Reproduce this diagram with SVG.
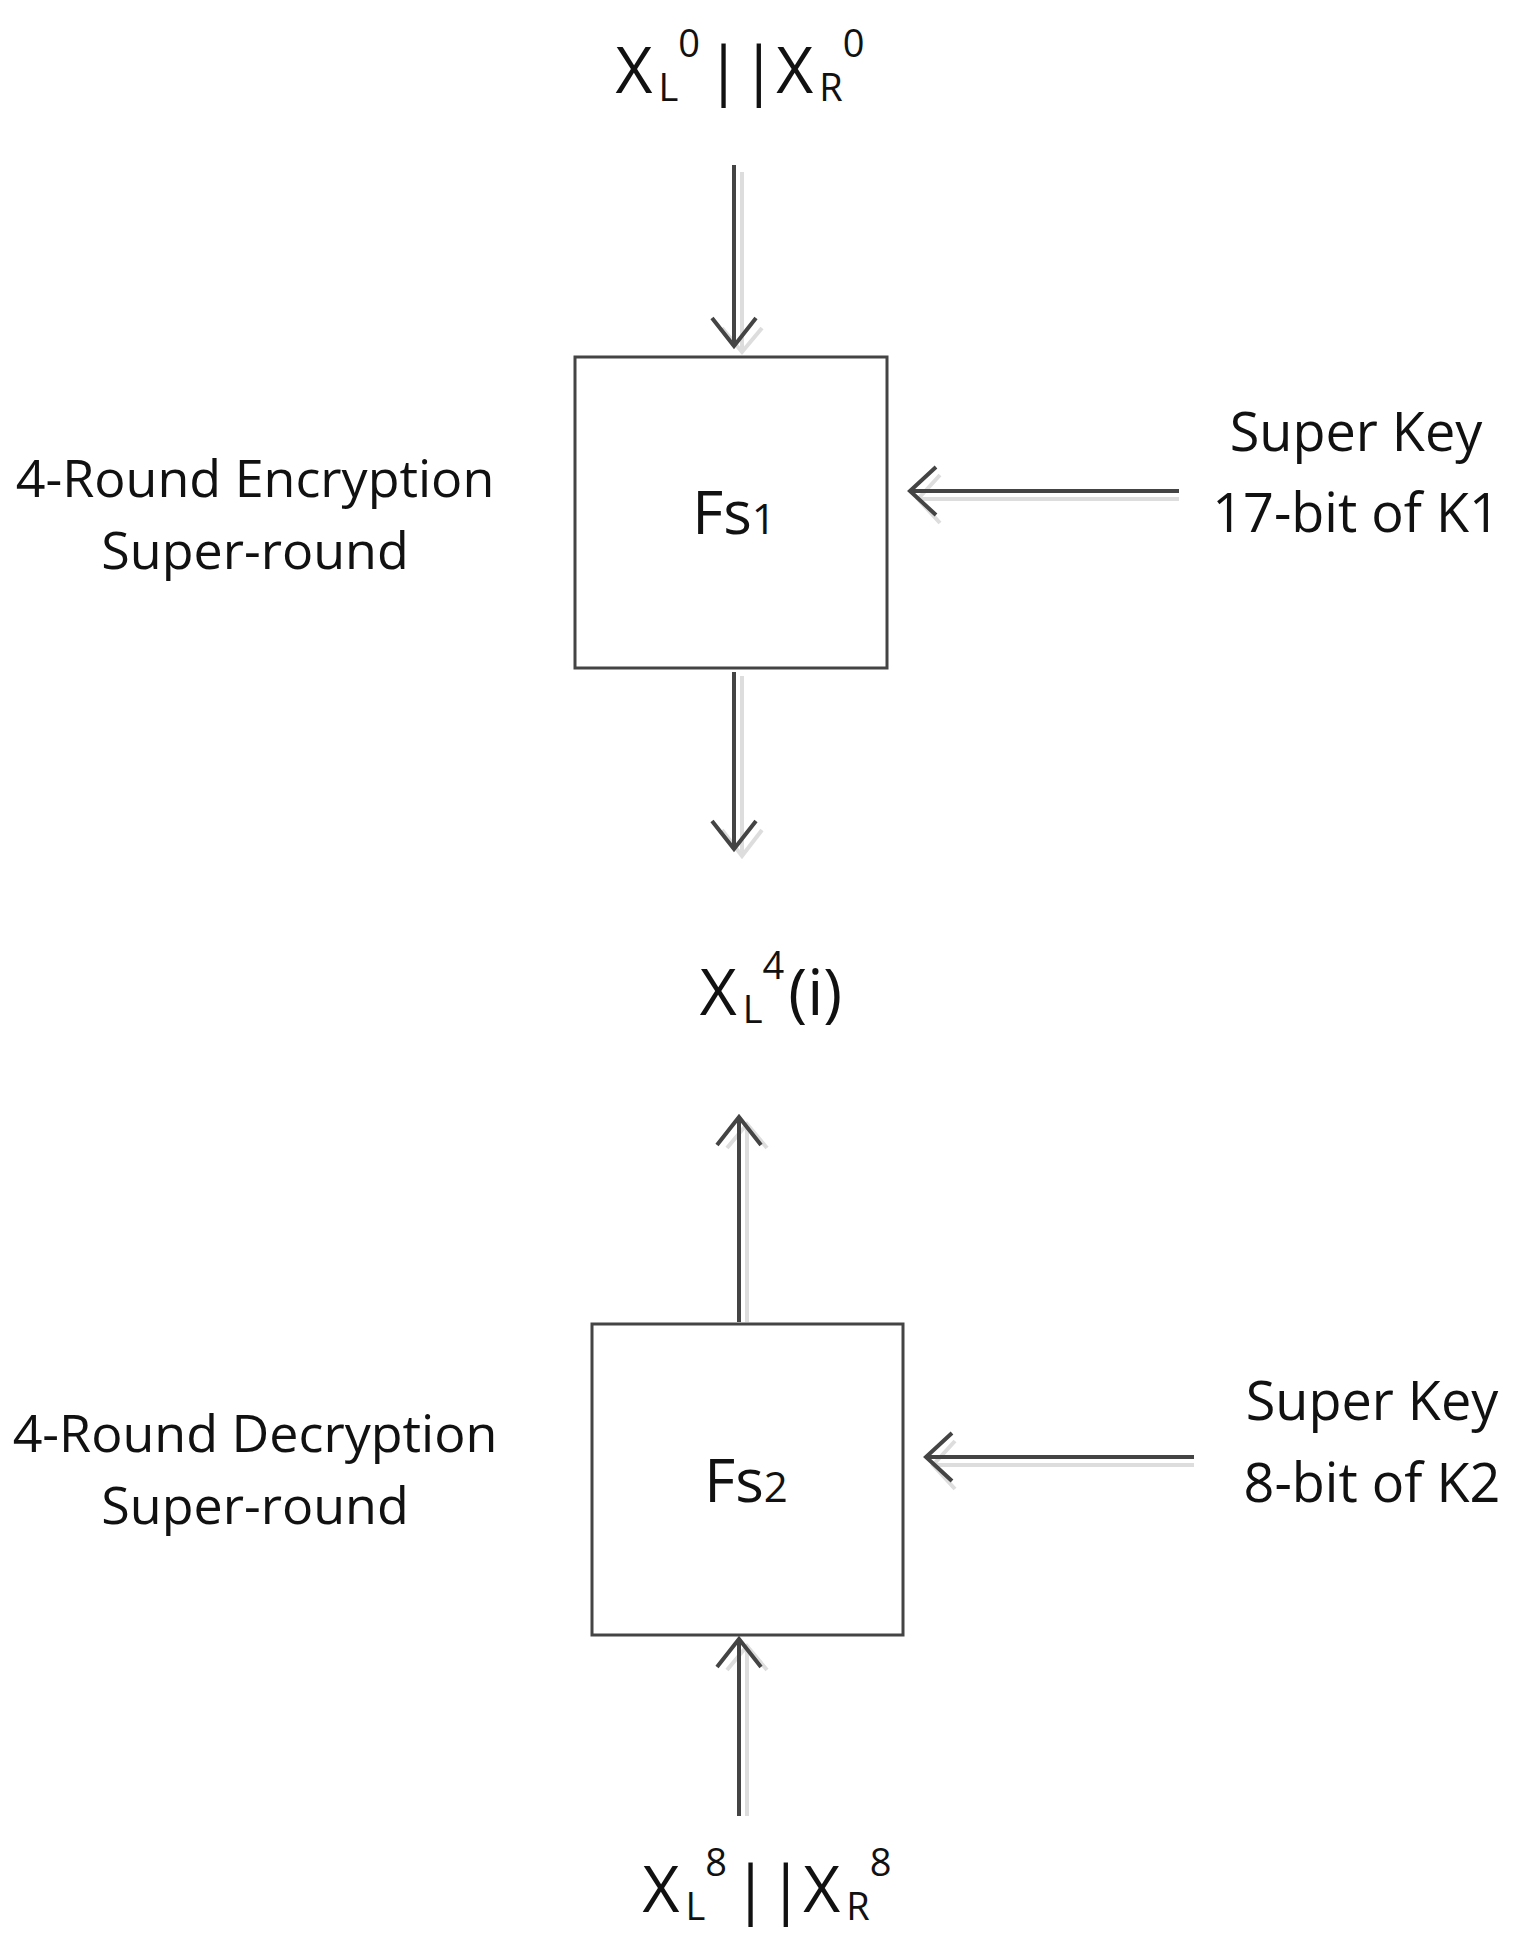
<svg xmlns="http://www.w3.org/2000/svg" width="1520" height="1936" viewBox="0 0 1520 1936">
<style>
text{font-family:"Open Sans","Liberation Sans",sans-serif;fill:#111;text-anchor:middle}
.t{font-size:52px}
.k{font-size:54px}
.f{font-size:60px}
.big{font-size:64px}
.box{fill:#fff;stroke:#444;stroke-width:3}
.c{stroke:#444;stroke-width:4;fill:none}
.s{stroke:#ddd;stroke-width:4;fill:none}
</style>
<rect width="1520" height="1936" fill="#fff"/>
<g id="connectors">
<path class="s" d="M742 172V352M722 328L742 352L762 328"/>
<path class="c" d="M734 165V346M712 318L734 346L756 318"/>
<path class="s" d="M1179 499H920M940 475L918 499L940 523"/>
<path class="c" d="M1179 491H910M936 467L910 491L936 515"/>
<path class="s" d="M742 676V856M722 830L742 856L762 830"/>
<path class="c" d="M734 672V849M712 821L734 849L756 821"/>
<path class="s" d="M747 1322V1124M727 1148L747 1124L767 1148"/>
<path class="c" d="M739 1322V1117M717 1145L739 1117L761 1145"/>
<path class="s" d="M1194 1465H935M955 1441L933 1465L955 1489"/>
<path class="c" d="M1194 1457H926M952 1433L926 1457L952 1481"/>
<path class="s" d="M747 1816V1646M727 1670L747 1646L767 1670"/>
<path class="c" d="M739 1816V1639M717 1667L739 1639L761 1667"/>
</g>
<g id="in0"><text class="big" x="740" y="93">X<tspan font-size="38" dx="6" dy="8">L</tspan><tspan font-size="38" dy="-44">0</tspan><tspan dx="6" dy="36">||X</tspan><tspan font-size="38" dx="6" dy="8">R</tspan><tspan font-size="38" dy="-44">0</tspan></text></g>
<g id="fs1"><rect class="box" x="575" y="357" width="312" height="311"/><text class="f" x="734" y="534">Fs<tspan font-size="42">1</tspan></text></g>
<g id="enc-label"><text class="t" x="255" y="497">4-Round Encryption</text><text class="t" x="255" y="569">Super-round</text></g>
<g id="key1"><text class="k" x="1356" y="451">Super Key</text><text class="k" x="1356" y="532">17-bit of K1</text></g>
<g id="mid"><text class="big" x="771" y="1015">X<tspan font-size="38" dx="6" dy="8">L</tspan><tspan font-size="38" dy="-44">4</tspan><tspan dx="4" dy="36">(i)</tspan></text></g>
<g id="fs2"><rect class="box" x="592" y="1324" width="311" height="311"/><text class="f" x="746" y="1502">Fs<tspan font-size="42">2</tspan></text></g>
<g id="dec-label"><text class="t" x="255" y="1452">4-Round Decryption</text><text class="t" x="255" y="1524">Super-round</text></g>
<g id="key2"><text class="k" x="1372" y="1420">Super Key</text><text class="k" x="1372" y="1502">8-bit of K2</text></g>
<g id="in8"><text class="big" x="767" y="1912">X<tspan font-size="38" dx="6" dy="8">L</tspan><tspan font-size="38" dy="-44">8</tspan><tspan dx="6" dy="36">||X</tspan><tspan font-size="38" dx="6" dy="8">R</tspan><tspan font-size="38" dy="-44">8</tspan></text></g>
</svg>
